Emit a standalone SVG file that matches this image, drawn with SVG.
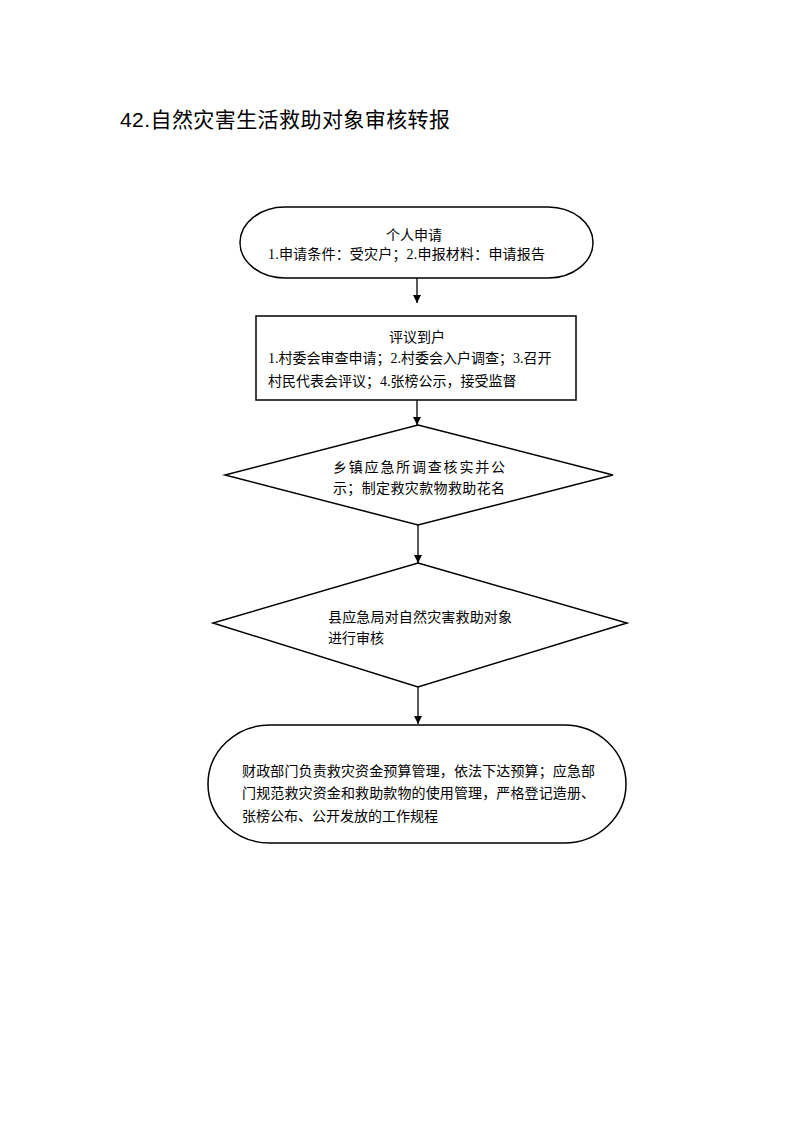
<svg xmlns="http://www.w3.org/2000/svg" width="793" height="1122" viewBox="0 0 793 1122">
<style>
.shape{fill:#fff;stroke:#000;stroke-width:1.5}
.t{font-family:"Liberation Serif","Noto Sans CJK SC",serif;font-size:14px;fill:#000}
.title{font-family:"Liberation Sans","Noto Sans CJK SC",sans-serif;font-size:21px;fill:#000}
.c{stroke:#000;stroke-width:1.3;fill:none}
</style>
<defs>
<marker id="arr" viewBox="0 0 10 10" refX="10" refY="5" markerWidth="8" markerHeight="8" markerUnits="userSpaceOnUse" orient="auto">
<path d="M0,0 L10,5 L0,10 z" fill="#000"/>
</marker>
</defs>
<rect width="793" height="1122" fill="#fff"/>
<text class="title" x="120" y="127" textLength="330" lengthAdjust="spacing">42.自然灾害生活救助对象审核转报</text>
<g id="connectors">
<line class="c" x1="417" y1="278" x2="417" y2="303" marker-end="url(#arr)"/>
<line class="c" x1="417" y1="400" x2="417" y2="425" marker-end="url(#arr)"/>
<line class="c" x1="418" y1="525" x2="418" y2="563" marker-end="url(#arr)"/>
<line class="c" x1="418" y1="687" x2="418" y2="724" marker-end="url(#arr)"/>
</g>
<g id="n1">
<rect class="shape" x="240" y="207" width="353" height="71" rx="45" ry="35.5"/>
<text class="t" x="414" y="240" text-anchor="middle">个人申请</text>
<text class="t" x="268" y="259" textLength="277" lengthAdjust="spacing">1.申请条件：受灾户；2.申报材料：申请报告</text>
</g>
<g id="n2">
<rect class="shape" x="256" y="316" width="320" height="84"/>
<text class="t" x="417" y="342" text-anchor="middle">评议到户</text>
<text class="t" x="268" y="363">1.村委会审查申请；2.村委会入户调查；3.召开</text>
<text class="t" x="268" y="386">村民代表会评议；4.张榜公示，接受监督</text>
</g>
<g id="n3">
<polygon class="shape" points="418,425 613,475 418,525 225,475"/>
<text class="t" x="333" y="472" textLength="172" lengthAdjust="spacing">乡镇应急所调查核实并公</text>
<text class="t" x="333" y="493" textLength="172" lengthAdjust="spacing">示；制定救灾款物救助花名</text>
</g>
<g id="n4">
<polygon class="shape" points="418,563 627,623 418,687 213,623"/>
<text class="t" x="328" y="622" textLength="184" lengthAdjust="spacing">县应急局对自然灾害救助对象</text>
<text class="t" x="328" y="643">进行审核</text>
</g>
<g id="n5">
<rect class="shape" x="208" y="725" width="418" height="118" rx="62" ry="59"/>
<text class="t" x="242" y="776" textLength="353" lengthAdjust="spacing">财政部门负责救灾资金预算管理，依法下达预算；应急部</text>
<text class="t" x="242" y="798" textLength="353" lengthAdjust="spacing">门规范救灾资金和救助款物的使用管理，严格登记造册、</text>
<text class="t" x="242" y="821">张榜公布、公开发放的工作规程</text>
</g>
</svg>
